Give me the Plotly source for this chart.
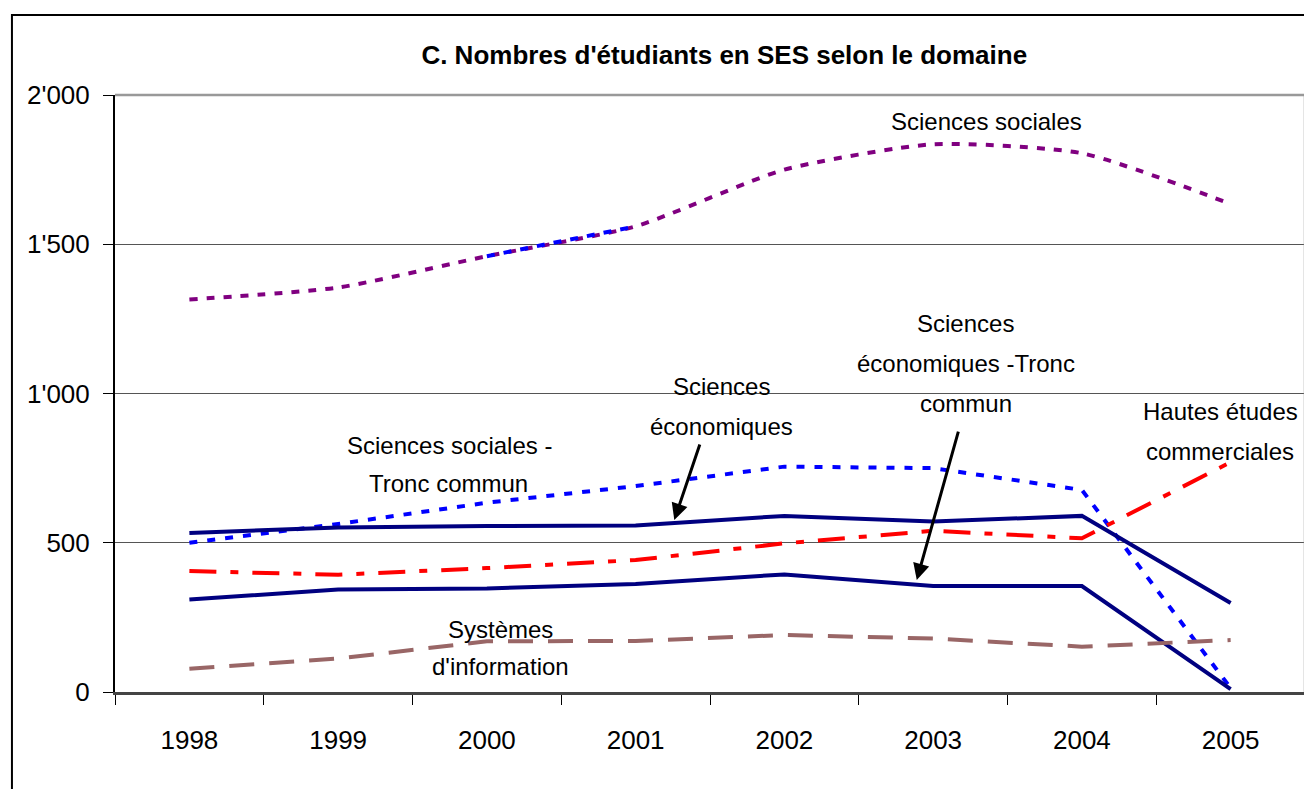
import plotly.graph_objects as go

annees = ["1998", "1999", "2000", "2001", "2002", "2003", "2004", "2005"]

sciences_sociales = [1315, 1355, 1460, 1560, 1750, 1835, 1805, 1635]
ss_tronc_commun = [500, 563, 634, 690, 755, 750, 677, 13]
sciences_eco = [533, 551, 556, 558, 590, 571, 590, 298]
hec = [405, 393, 415, 442, 498, 540, 515, 770]
se_tronc_commun = [310, 343, 347, 362, 394, 355, 355, 10]
systemes_info = [78, 112, 170, 171, 191, 179, 152, 174]

y_ticks = [0, 500, 1000, 1500, 2000]
y_ticktext = ["0", "500", "1'000", "1'500", "2'000"]

FONT = "Liberation Sans"

fig = go.Figure()

fig.add_trace(go.Scatter(x=annees, y=sciences_sociales, mode="lines",
                         line=dict(color="#800080", width=4, dash="8px,9px",
                                   shape="spline", smoothing=0.6)))
# segment bleu sur la courbe du haut (2000-2001)
fig.add_trace(go.Scatter(x=annees[2:4], y=sciences_sociales[2:4], mode="lines",
                         line=dict(color="#0000FF", width=4, dash="8px,9px")))
fig.add_trace(go.Scatter(x=annees, y=ss_tronc_commun, mode="lines",
                         line=dict(color="#0000FF", width=4, dash="8px,10px")))
fig.add_trace(go.Scatter(x=annees, y=sciences_eco, mode="lines",
                         line=dict(color="#000080", width=4)))
fig.add_trace(go.Scatter(x=annees, y=hec, mode="lines",
                         line=dict(color="#FF0000", width=4, dash="27px,14px,8px,14px")))
fig.add_trace(go.Scatter(x=annees, y=se_tronc_commun, mode="lines",
                         line=dict(color="#000080", width=4)))
fig.add_trace(go.Scatter(x=annees, y=systemes_info, mode="lines",
                         line=dict(color="#996666", width=4, dash="25px,15px")))

labels = [
    ("Sciences sociales", 5.36, 1910),
    ("Sciences sociales -", 1.75, 827),
    ("Tronc commun", 1.74, 697),
    ("Sciences", 3.58, 1022),
    ("économiques", 3.58, 888),
    ("Sciences", 5.22, 1236),
    ("économiques -Tronc", 5.22, 1102),
    ("commun", 5.22, 965),
    ("Hautes études", 6.93, 941),
    ("commerciales", 6.93, 807),
    ("Systèmes", 2.09, 208),
    ("d'information", 2.09, 84),
]
for txt, xi, yi in labels:
    fig.add_annotation(x=xi, y=yi, xref="x", yref="y", text=txt, showarrow=False,
                       font=dict(family=FONT, size=24, color="black"))

# flèches
fig.add_annotation(x=3.26, y=576, xref="x", yref="y", text="", showarrow=True,
                   ax=26, ay=-77, arrowhead=2, arrowsize=1.1, arrowwidth=3,
                   arrowcolor="black")
fig.add_annotation(x=4.89, y=375, xref="x", yref="y", text="", showarrow=True,
                   ax=42, ay=-150, arrowhead=2, arrowsize=1.1, arrowwidth=3,
                   arrowcolor="black")

# cadre gris de la zone de tracé (haut et droite)
fig.add_shape(type="line", xref="paper", yref="paper", x0=0, x1=1, y0=1, y1=1,
              line=dict(color="#999999", width=2.5))
fig.add_shape(type="line", xref="paper", yref="paper", x0=1, x1=1, y0=0, y1=1,
              line=dict(color="#999999", width=2.5))
# cadre extérieur
fig.add_shape(type="rect", xref="paper", yref="paper",
              x0=-0.0866, x1=1.03, y0=-0.3, y1=1.134,
              line=dict(color="black", width=2))

fig.update_layout(
    width=1312, height=789,
    margin=dict(l=107, r=15, t=87, b=105),
    paper_bgcolor="white", plot_bgcolor="white",
    showlegend=False,
    font=dict(family=FONT, color="black"),
    title=dict(text="<b>C. Nombres d'étudiants en SES selon le domaine</b>",
               xref="paper", x=0.512, xanchor="center", y=0.94, yanchor="middle",
               font=dict(family=FONT, size=26, color="black")),
    xaxis=dict(type="category", range=[-0.5, 7.5], showline=True,
               linecolor="#444444", linewidth=2.5, ticks="outside",
               tickson="boundaries", ticklen=10, tickcolor="black",
               tickwidth=1, showgrid=False, ticklabelstandoff=23,
               tickfont=dict(family=FONT, size=26)),
    yaxis=dict(range=[0, 2000], tickvals=y_ticks, ticktext=y_ticktext,
               showline=True, linecolor="black", linewidth=2, ticks="outside",
               ticklen=10, tickcolor="black", tickwidth=1,
               showgrid=True, gridcolor="#555555", gridwidth=1.2,
               zeroline=False, ticklabelstandoff=8,
               tickfont=dict(family=FONT, size=26)),
)

fig.write_html("out.html")
